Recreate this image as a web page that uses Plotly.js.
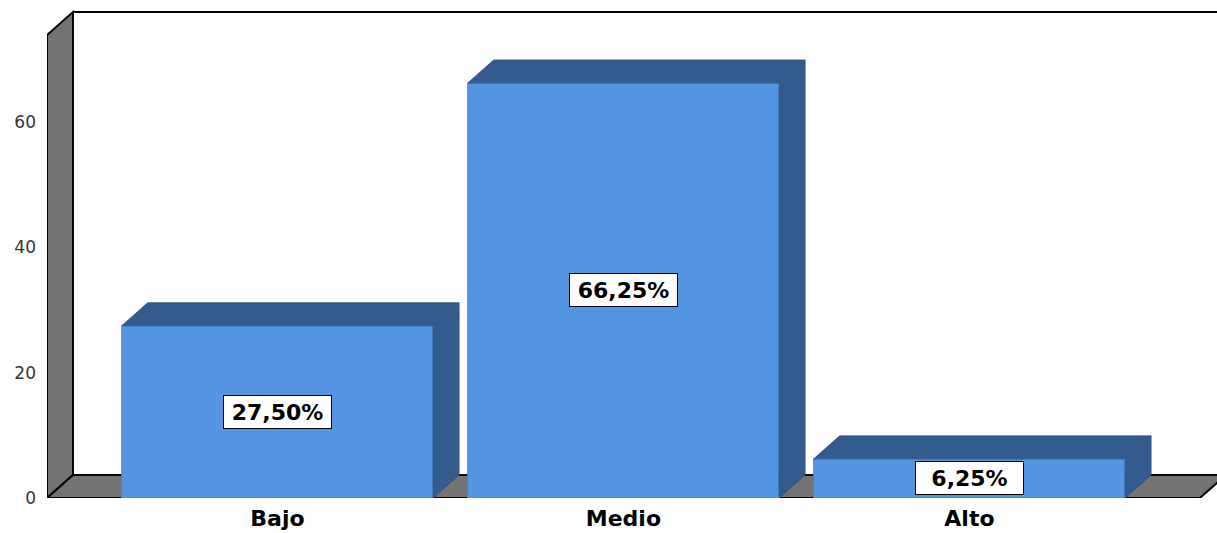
<!DOCTYPE html>
<html>
<head>
<meta charset="utf-8">
<script src="https://cdn.plot.ly/plotly-3.0.1.min.js"></script>
<style>html,body{margin:0;padding:0;background:#fff;}#chart{width:1217px;height:533px;}</style>
</head>
<body>
<div id="chart"></div>
<script>
// ---- data ----
const categories = ["Bajo", "Medio", "Alto"];
const percentages = [27.50, 66.25, 6.25];
const yTickValues = [0, 20, 40, 60];

// ---- style / geometry constants ----
const FRONT = "#5495E3";
const DARK = "#345B8E";
const WALL = "#737373";
const BAR_W = 0.9;
const X_MIN = -0.666, X_MAX = 2.7156;
const Y_MAX = 77.9;
const DX = 0.0751;   // depth offset in x units
const DY = 3.67;     // depth offset in y units
const WALL_TOP = 73.9;
const FLOOR_RIGHT = 2.666;

const xs = categories.map((c, i) => i);
const traces = [];

traces.push({
  type: "bar", x: xs, y: percentages, width: BAR_W,
  marker: {color: FRONT, line: {color: "#4A84CC", width: 1}},
  hoverinfo: "skip", showlegend: false
});

xs.forEach((c, i) => {
  const v = percentages[i];
  const l = c - BAR_W / 2, r = c + BAR_W / 2;
  // top face
  traces.push({
    type: "scatter", mode: "lines", fill: "toself", fillcolor: DARK,
    line: {color: "#2E5282", width: 0.8},
    x: [l, l + DX, r + DX, r, l], y: [v, v + DY, v + DY, v, v],
    hoverinfo: "skip", showlegend: false
  });
  // side face
  traces.push({
    type: "scatter", mode: "lines", fill: "toself", fillcolor: DARK,
    line: {color: "#2E5282", width: 0.8},
    x: [r, r, r + DX, r + DX, r], y: [0, v, v + DY, DY, 0],
    hoverinfo: "skip", showlegend: false
  });
});

const fmt = v => v.toFixed(2).replace(".", ",") + "%";
const annotations = xs.map((c, i) => ({
  x: c, y: percentages[i] / 2, xref: "x", yref: "y",
  text: fmt(percentages[i]), showarrow: false,
  width: 103, height: 28, align: "center", valign: "middle",
  bgcolor: "#FFFFFF", bordercolor: "#000000", borderwidth: 1, borderpad: 2,
  font: {family: "DejaVu Sans", size: 22, color: "#000000", weight: "bold"}
}));

const shapes = [
  // left wall
  {type: "path", layer: "below", xref: "x", yref: "y",
   path: `M ${X_MIN} 0 L ${X_MIN} ${WALL_TOP} L ${X_MIN + DX} ${WALL_TOP + DY} L ${X_MIN + DX} ${DY} Z`,
   fillcolor: WALL, line: {color: "#000000", width: 2}},
  // floor
  {type: "path", layer: "below", xref: "x", yref: "y",
   path: `M ${X_MIN} 0 L ${X_MIN + DX} ${DY} L ${FLOOR_RIGHT + DX} ${DY} L ${FLOOR_RIGHT} 0 Z`,
   fillcolor: WALL, line: {color: "#000000", width: 2}},
  // back wall top edge
  {type: "line", layer: "below", xref: "x", yref: "y",
   x0: X_MIN + DX, x1: X_MAX + 0.1, y0: WALL_TOP + DY, y1: WALL_TOP + DY,
   line: {color: "#000000", width: 2}}
];

const layout = {
  width: 1217, height: 533,
  margin: {l: 47, r: 0, t: 10, b: 35},
  paper_bgcolor: "#FFFFFF", plot_bgcolor: "#FFFFFF",
  showlegend: false,
  xaxis: {
    range: [X_MIN, X_MAX], tickvals: xs, ticktext: categories,
    showgrid: false, zeroline: false, showline: false, ticks: "",
    ticklabelstandoff: 5,
    tickfont: {family: "DejaVu Sans", size: 22, color: "#000000", weight: "bold"}
  },
  yaxis: {
    range: [0, Y_MAX], tickvals: yTickValues,
    showgrid: false, zeroline: false, showline: false, ticks: "",
    ticklabelstandoff: 10,
    tickfont: {family: "DejaVu Sans", size: 17, color: "#333333"}
  },
  shapes: shapes,
  annotations: annotations
};

Plotly.newPlot("chart", traces, layout, {staticPlot: true, displayModeBar: false});
</script>
</body>
</html>
